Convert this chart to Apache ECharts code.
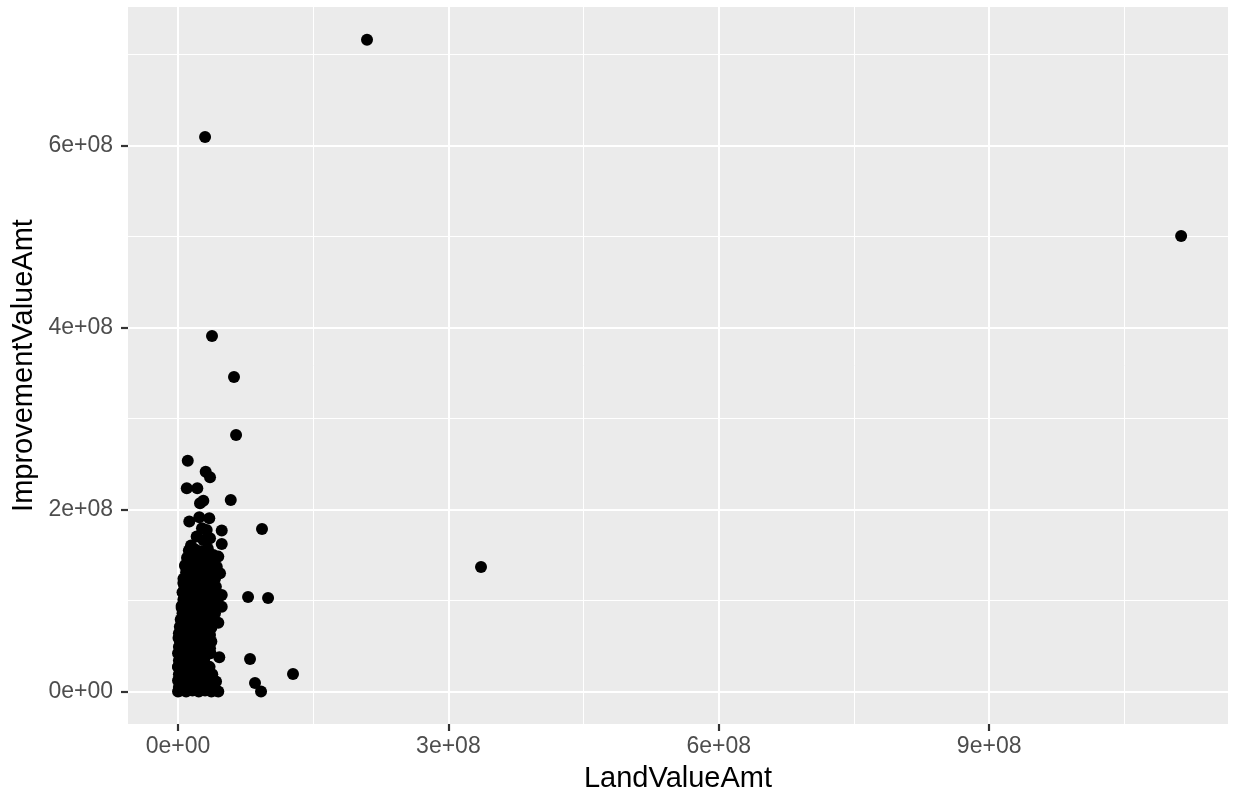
<!DOCTYPE html>
<html>
<head>
<meta charset="utf-8">
<script src="https://cdn.jsdelivr.net/npm/echarts@6/dist/echarts.min.js"></script>
<style>
  html, body { margin: 0; padding: 0; background: #ffffff; }
  #chart { width: 1235px; height: 795px; }
</style>
</head>
<body>
<div id="chart"></div>
<script>
// Assessed values, in millions of dollars: [LandValueAmt, ImprovementValueAmt]
const outlierParcels = [
  [209.7, 716.3], [30.0, 609.5], [1113.0, 500.7], [37.7, 390.8], [62.1, 345.7],
  [64.4, 282.0], [336.2, 136.9], [127.6, 19.2], [93.2, 178.6], [99.9, 102.8],
  [77.7, 103.9], [79.9, 35.7], [85.4, 9.3], [92.1, 0.0]
];
const upperClusterParcels = [
  [10.8, 253.7], [30.7, 241.6], [35.5, 235.5], [9.7, 223.4], [21.4, 223.4],
  [28.1, 209.7], [24.4, 206.9], [58.5, 210.5], [12.5, 186.7], [23.6, 191.5],
  [34.7, 190.4], [48.5, 176.8], [48.5, 162.1], [14.4, 160.3], [26.6, 179.4],
  [31.8, 177.5], [20.7, 170.2], [35.5, 168.4], [28.1, 166.5], [28.1, 151.9],
  [39.2, 150.1], [44.7, 148.2], [13.3, 140.9], [35.5, 144.6], [46.6, 129.9],
  [48.5, 106.1], [48.5, 93.2], [44.7, 75.6], [35.5, 62.1], [35.5, 47.5],
  [45.8, 37.6], [42.2, 10.8], [44.7, 0.0], [7.8, 138.0], [5.9, 119.3],
  [4.1, 91.8], [0.5, 58.8], [0.0, 27.0]
];
const denseClusterParcels = [
  [12, 155], [19, 156], [26, 154], [33, 157],
  [10, 147], [17, 148], [24, 146], [31, 147], [38, 145],
  [8, 139], [15, 138], [22, 140], [29, 139], [36, 138], [43, 137],
  [9, 131], [16, 132], [23, 130], [30, 131], [37, 132],
  [6, 124], [13, 123], [20, 125], [27, 124], [34, 122], [41, 124],
  [7, 116], [14, 117], [21, 115], [28, 116], [35, 117], [42, 115],
  [5, 109], [12, 108], [19, 110], [26, 109], [33, 108], [40, 110],
  [6, 101], [13, 102], [20, 100], [27, 101], [34, 102], [44, 101],
  [4, 94], [11, 95], [18, 93], [25, 94], [32, 95], [39, 93],
  [5, 86], [12, 87], [19, 85], [26, 86], [33, 87], [41, 86],
  [3, 79], [10, 78], [17, 80], [24, 79], [31, 78], [38, 80],
  [2, 71], [9, 72], [16, 70], [23, 71], [30, 72], [37, 70],
  [1, 64], [8, 63], [15, 65], [22, 64], [29, 63],
  [2, 56], [9, 57], [16, 55], [23, 56], [30, 57], [37, 55],
  [1, 49], [7, 48], [14, 50], [21, 49], [28, 48],
  [0, 42], [7, 43], [14, 41], [21, 42], [28, 43], [36, 42],
  [1, 34], [8, 35], [15, 33], [22, 34], [29, 35],
  [0, 27], [6, 26], [13, 28], [20, 27], [27, 26], [35, 27],
  [1, 19], [8, 20], [15, 18], [22, 19], [29, 20], [38, 19],
  [0, 12], [6, 11], [13, 13], [20, 12], [27, 11], [34, 12],
  [1, 5], [7, 6], [14, 4], [21, 5], [28, 6], [35, 4], [40, 5],
  [0, 0], [3, 1], [9, 0], [16, 1], [23, 0], [30, 1], [37, 0], [42, 1]
];

// Axis breaks (dollars)
const xMajorTicks = [0, 3e8, 6e8, 9e8];
const xMinorTicks = [1.5e8, 4.5e8, 7.5e8, 10.5e8];
const yMajorTicks = [0, 2e8, 4e8, 6e8];
const yMinorTicks = [1e8, 3e8, 5e8, 7e8];

const MILLION = 1e6;
const points = outlierParcels.concat(upperClusterParcels, denseClusterParcels)
  .map(p => [p[0] * MILLION, p[1] * MILLION]);

const xMin = -55.5e6, xMax = 1165e6;
const yMin = -35.8e6, yMax = 752.4e6;

function sci(v) {
  if (v === 0) return '0e+00';
  const e = Math.floor(Math.log10(Math.abs(v)) + 1e-9);
  const m = Math.round(v / Math.pow(10, e));
  return m + 'e' + (e >= 0 ? '+' : '-') + String(Math.abs(e)).padStart(2, '0');
}

const FONT = '"Liberation Sans", Arial, sans-serif';
const tickStyle = { show: true, length: 7, lineStyle: { color: '#333333', width: 2.2 } };

// Minor grid lines, placed by axis value
const minorGridLines = xMinorTicks.map(v => ({ xAxis: v }))
  .concat(yMinorTicks.map(v => ({ yAxis: v })));

const chart = echarts.init(document.getElementById('chart'), null, { renderer: 'canvas' });
chart.setOption({
  animation: false,
  backgroundColor: '#ffffff',
  grid: {
    left: 128, right: 7, top: 7, bottom: 71,
    show: true, backgroundColor: '#EBEBEB', borderWidth: 0,
    outerBoundsMode: 'none'
  },
  xAxis: {
    type: 'value', min: xMin, max: xMax,
    name: 'LandValueAmt', nameLocation: 'middle', nameGap: 40,
    nameMoveOverlap: false,
    nameTextStyle: { fontFamily: FONT, fontSize: 29, color: '#000000' },
    axisLine: { show: false, onZero: false },
    axisTick: Object.assign({ customValues: xMajorTicks }, tickStyle),
    axisLabel: {
      customValues: xMajorTicks, formatter: sci, margin: 11,
      fontFamily: FONT, fontSize: 23, color: '#4D4D4D'
    },
    splitLine: { show: true, lineStyle: { color: '#ffffff', width: 2 } }
  },
  yAxis: {
    type: 'value', min: yMin, max: yMax,
    name: 'ImprovementValueAmt', nameLocation: 'middle', nameGap: 90,
    nameMoveOverlap: false,
    nameTextStyle: { fontFamily: FONT, fontSize: 29, color: '#000000' },
    axisLine: { show: false, onZero: false },
    axisTick: Object.assign({ customValues: yMajorTicks }, tickStyle),
    axisLabel: {
      customValues: yMajorTicks, formatter: sci, margin: 15,
      fontFamily: FONT, fontSize: 23, color: '#4D4D4D'
    },
    splitLine: { show: true, lineStyle: { color: '#ffffff', width: 2 } }
  },
  series: [
    {
      type: 'scatter', data: [], z: 1, silent: true,
      markLine: {
        z: 1,
        silent: true, symbol: 'none', animation: false,
        label: { show: false },
        lineStyle: { color: '#ffffff', width: 1, type: 'solid', opacity: 1 },
        emphasis: { disabled: true },
        data: minorGridLines
      }
    },
    {
      type: 'scatter', z: 3,
      data: points,
      symbol: 'circle',
      symbolSize: 12,
      itemStyle: { color: '#000000', opacity: 1 },
      silent: true
    }
  ]
});
</script>
</body>
</html>
